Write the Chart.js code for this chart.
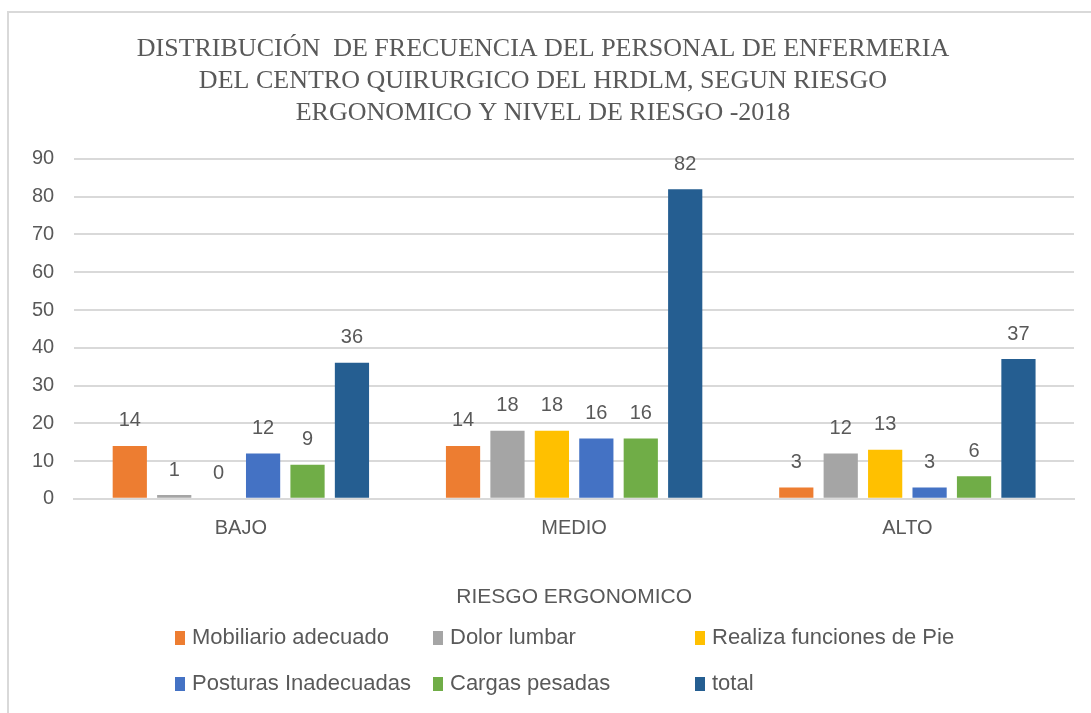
<!DOCTYPE html>
<html>
<head>
<meta charset="utf-8">
<script src="https://cdn.jsdelivr.net/npm/chart.js@4"></script>
<style>
  html, body { margin: 0; padding: 0; background: #fff; overflow: hidden; }
  #frame { position: absolute; left: 7px; top: 11px; width: 1200px; height: 800px;
           border-left: 2px solid #d9d9d9; border-top: 2px solid #d9d9d9; }
  #wrap { position: absolute; left: 0; top: 0; width: 1091px; height: 713px; }
</style>
</head>
<body>
<div id="frame"></div>
<div id="wrap"><canvas id="canvas"></canvas></div>
<script>
var categories = ['BAJO', 'MEDIO', 'ALTO'];
var seriesNames = ['Mobiliario adecuado', 'Dolor lumbar', 'Realiza funciones de Pie',
                   'Posturas Inadecuadas', 'Cargas pesadas', 'total'];
var mobiliario = [14, 14, 3];
var dolorLumbar = [1, 18, 12];
var funcionesPie = [0, 18, 13];
var posturas = [12, 16, 3];
var cargas = [9, 16, 6];
var total = [36, 82, 37];
var colors = ['#ED7D31', '#A5A5A5', '#FFC000', '#4472C4', '#70AD47', '#255E91'];

var textColor = '#595959';
var sansFont = '"Liberation Sans", Arial, sans-serif';

// value labels above each bar
var valueLabels = {
    id: 'valueLabels',
    afterDatasetsDraw: function(chart) {
        var c = chart.ctx;
        c.save();
        c.font = '20px ' + sansFont;
        c.fillStyle = textColor;
        c.textAlign = 'center';
        c.textBaseline = 'middle';
        chart.data.datasets.forEach(function(ds, i) {
            chart.getDatasetMeta(i).data.forEach(function(bar, j) {
                c.fillText(ds.data[j], bar.x, bar.y - 25);
            });
        });
        c.restore();
    }
};

// legend in a 3-column grid like the original
var gridLegend = {
    id: 'gridLegend',
    afterDraw: function(chart) {
        var c = chart.ctx;
        var colX = [175, 433, 695];
        var rowY = [638, 684];
        c.save();
        c.font = '22px ' + sansFont;
        c.textBaseline = 'middle';
        c.textAlign = 'left';
        chart.data.datasets.forEach(function(ds, i) {
            var x = colX[i % 3], y = rowY[Math.floor(i / 3)];
            c.fillStyle = ds.backgroundColor;
            c.fillRect(x, y - 7, 10, 14);
            c.fillStyle = textColor;
            c.fillText(ds.label, x + 17, y);
        });
        c.restore();
    }
};

var seriesData = [mobiliario, dolorLumbar, funcionesPie, posturas, cargas, total];

var ctx = document.getElementById('canvas').getContext('2d');
var myChart = new Chart(ctx, {
    type: 'bar',
    data: {
        labels: categories,
        datasets: seriesNames.map(function(name, i) {
            return {
                label: name,
                data: seriesData[i],
                backgroundColor: colors[i],
                borderWidth: 0,
                categoryPercentage: 0.8,
                barPercentage: 0.77
            };
        })
    },
    plugins: [valueLabels, gridLegend],
    options: {
        responsive: true,
        maintainAspectRatio: false,
        animation: false,
        layout: { padding: { left: 12, right: 17, top: 0, bottom: 103 } },
        plugins: {
            legend: { display: false },
            tooltip: { enabled: false },
            title: {
                display: true,
                text: ['DISTRIBUCIÓN  DE FRECUENCIA DEL PERSONAL DE ENFERMERIA',
                       'DEL CENTRO QUIRURGICO DEL HRDLM, SEGUN RIESGO',
                       'ERGONOMICO Y NIVEL DE RIESGO -2018'],
                color: textColor,
                font: { family: '"Liberation Serif", "Times New Roman", serif', size: 26, weight: 'normal', lineHeight: 1.23 },
                padding: { top: 33, bottom: 30 }
            }
        },
        scales: {
            x: {
                grid: { display: false },
                border: { display: true, color: '#d9d9d9', width: 2 },
                ticks: { color: textColor, font: { family: sansFont, size: 20 }, padding: 10 },
                title: {
                    display: true,
                    text: 'RIESGO ERGONOMICO',
                    color: textColor,
                    font: { family: sansFont, size: 21 },
                    padding: { top: 34, bottom: 0 }
                }
            },
            y: {
                min: 0,
                max: 90,
                ticks: { stepSize: 10, color: textColor, font: { family: sansFont, size: 20 }, padding: 20 },
                grid: { color: '#d9d9d9', lineWidth: 2, drawTicks: false },
                border: { display: false }
            }
        }
    }
});
</script>
</body>
</html>
